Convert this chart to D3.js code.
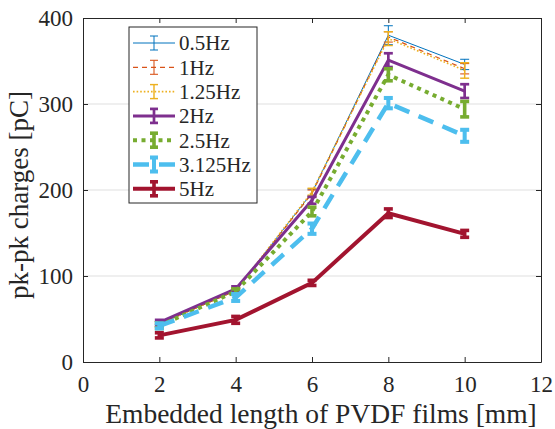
<!DOCTYPE html>
<html><head><meta charset="utf-8">
<script src="https://cdn.jsdelivr.net/npm/d3@7"></script>
<style>body{margin:0;background:#fff}svg{display:block}</style>
</head><body><div id="chart"></div>
<script>
const lengths = [2, 4, 6, 8, 10];
const seriesNames = ["0.5Hz", "1Hz", "1.25Hz", "2Hz", "2.5Hz", "3.125Hz", "5Hz"];
const v05 = [44, 83, 197, 380, 346];
const v1 = [44, 83, 196, 378, 341];
const v125 = [44, 83, 198, 376, 339];
const v2 = [46, 85, 188, 351, 315];
const v25 = [42, 82, 175, 334, 294];
const v3125 = [42, 75, 155, 301, 263];
const v5 = [31, 49, 92, 173, 149];
const e05 = [3, 3, 4, 11, 6];
const e1 = [3, 3, 4, 6, 6];
const e125 = [3, 3, 4, 8, 9];
const e2 = [3, 3, 4, 8, 8];
const e25 = [3, 3, 5, 7, 9];
const e3125 = [3, 4, 6, 6, 7];
const e5 = [3, 4, 3, 5, 4];
const xTicks = [0, 2, 4, 6, 8, 10, 12];
const yTicks = [0, 100, 200, 300, 400];

const FONT = "Liberation Serif, Times New Roman, serif";
const styles = [
  {c:"#0072BD", w:1, dash:null},
  {c:"#D95319", w:1.2, dash:"5,4"},
  {c:"#EDB120", w:1.6, dash:"1.6,2"},
  {c:"#7E2F8E", w:3, dash:null},
  {c:"#77AC30", w:4, dash:"4,4.5"},
  {c:"#4DBEEE", w:4.5, dash:"16,10"},
  {c:"#A2142F", w:4, dash:null}
];
const vals = [v05, v1, v125, v2, v25, v3125, v5];
const errs = [e05, e1, e125, e2, e25, e3125, e5];

const W = 555, H = 429;
const L = 83, R = 541, T = 18, B = 362;
const svg = d3.select("#chart").append("svg").attr("width", W).attr("height", H);
const x = d3.scaleLinear().domain([0, 12]).range([L, R]);
const y = d3.scaleLinear().domain([0, 400]).range([B, T]);

// grid
svg.append("g").selectAll("line").data(yTicks.slice(1, -1)).join("line")
  .attr("x1", L).attr("x2", R).attr("y1", d => y(d)).attr("y2", d => y(d))
  .attr("stroke", "#dfdfdf").attr("stroke-width", 1);

// axes
const ax = svg.append("g").attr("transform", `translate(0,${B})`)
  .call(d3.axisBottom(x).tickValues(xTicks).tickSizeInner(-5).tickSizeOuter(0).tickPadding(14));
const ay = svg.append("g").attr("transform", `translate(${L},0)`)
  .call(d3.axisLeft(y).tickValues(yTicks).tickSizeInner(-5).tickSizeOuter(0).tickPadding(10));
const axT = svg.append("g").attr("transform", `translate(0,${T})`)
  .call(d3.axisTop(x).tickValues(xTicks).tickSizeInner(-5).tickSizeOuter(0).tickFormat(""));
const ayR = svg.append("g").attr("transform", `translate(${R},0)`)
  .call(d3.axisRight(y).tickValues(yTicks).tickSizeInner(-5).tickSizeOuter(0).tickFormat(""));
[ax, ay, axT, ayR].forEach(g => {
  g.attr("font-family", FONT).attr("font-size", 23);
  g.selectAll("path").attr("stroke", "#262626").attr("stroke-width", 1);
  g.selectAll("line").attr("stroke", "#262626");
  g.selectAll("text").attr("fill", "#262626").style("font-family", FONT).style("font-size", "23px");
});

// series
const line = d3.line().x((d, i) => x(lengths[i])).y(d => y(d));
vals.forEach((vs, k) => {
  const s = styles[k];
  const g = svg.append("g");
  g.append("path").attr("d", line(vs)).attr("fill", "none").attr("stroke", s.c)
    .attr("stroke-width", s.w).attr("stroke-dasharray", s.dash).attr("stroke-linejoin", "miter");
  const ew = Math.max(1, s.w * 0.9);
  vs.forEach((v, i) => {
    const xx = x(lengths[i]), e = errs[k][i];
    g.append("line").attr("x1", xx).attr("x2", xx).attr("y1", y(v - e)).attr("y2", y(v + e))
      .attr("stroke", s.c).attr("stroke-width", ew);
    [v - e, v + e].forEach(t => g.append("line").attr("x1", xx - 4.5).attr("x2", xx + 4.5)
      .attr("y1", y(t)).attr("y2", y(t)).attr("stroke", s.c).attr("stroke-width", ew));
  });
});

// legend
const lg = svg.append("g");
lg.append("rect").attr("x", 129).attr("y", 27).attr("width", 128).attr("height", 176)
  .attr("fill", "#fff").attr("stroke", "#262626").attr("stroke-width", 1);
seriesNames.forEach((n, k) => {
  const s = styles[k];
  const cy = 43 + k * 24.3;
  lg.append("line").attr("x1", 133).attr("x2", 175).attr("y1", cy).attr("y2", cy)
    .attr("stroke", s.c).attr("stroke-width", s.w).attr("stroke-dasharray", s.dash);
  const ew = Math.max(1, s.w * 0.9);
  lg.append("line").attr("x1", 154).attr("x2", 154).attr("y1", cy - 7).attr("y2", cy + 7)
    .attr("stroke", s.c).attr("stroke-width", ew);
  [cy - 7, cy + 7].forEach(t => lg.append("line").attr("x1", 150).attr("x2", 158)
    .attr("y1", t).attr("y2", t).attr("stroke", s.c).attr("stroke-width", ew));
  lg.append("text").attr("x", 179).attr("y", cy).attr("dy", "0.35em")
    .attr("fill", "#262626").style("font-family", FONT).style("font-size", "21px").text(n);
});

// labels
svg.append("text").attr("x", 321).attr("y", 423).attr("text-anchor", "middle")
  .attr("fill", "#262626").style("font-family", FONT).style("font-size", "27.5px")
  .text("Embedded length of PVDF films [mm]");
svg.append("text").attr("transform", "translate(28,195) rotate(-90)")
  .attr("text-anchor", "middle").attr("fill", "#262626")
  .style("font-family", FONT).style("font-size", "27px").text("pk-pk charges [pC]");
</script></body></html>
